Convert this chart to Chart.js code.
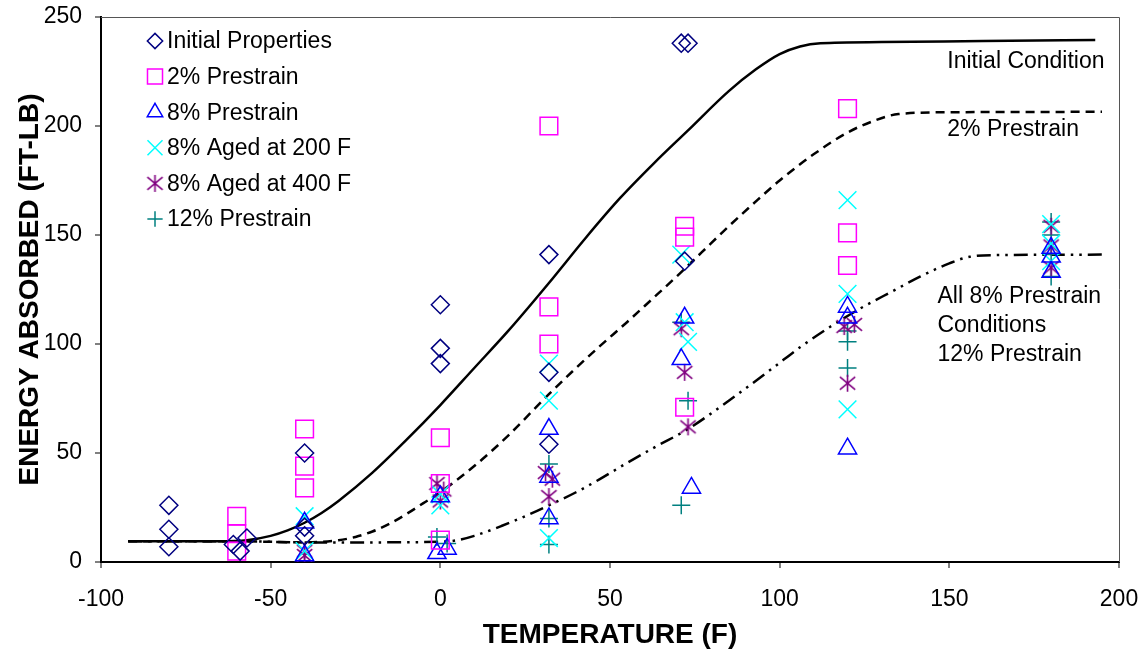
<!DOCTYPE html>
<html>
<head>
<meta charset="utf-8">
<script src="https://cdn.jsdelivr.net/npm/chart.js@4.4.0/dist/chart.umd.min.js"></script>
<style>
  html, body { margin: 0; padding: 0; background: #fff; }
</style>
</head>
<body>
<canvas id="chart" width="1148" height="656"></canvas>
<script>
(function() {
    'use strict';

    // ===== DATA =====
    const xTicks = [-100, -50, 0, 50, 100, 150, 200];
    const yTicks = [0, 50, 100, 150, 200, 250];

    // Initial Properties (diamonds)
    const initX = [-80, -80, -80, -61, -57, -59, -40, -40, -40, 0, 0, 0, 32, 32, 32, 71, 73, 72];
    const initY = [26, 15, 7, 8, 11, 5, 50, 16, 12, 118, 98, 91, 141, 87, 54, 238, 238, 138];

    // 2% Prestrain (squares)
    const pre2X = [-60, -60, -60, -40, -40, -40, 0, 0, 0, 32, 32, 32, 72, 72, 72, 120, 120, 120];
    const pre2Y = [21, 13, 5, 61, 44, 34, 57, 36, 10, 200, 117, 100, 154, 149, 71, 208, 151, 136];

    // 8% Prestrain (triangles)
    const pre8X = [-40, -40, 0, -1, 2, 32, 32, 32, 72, 71, 74, 120, 120, 120, 180, 180, 180];
    const pre8Y = [18, 3, 30, 4, 6, 61, 39, 20, 112, 93, 34, 117, 112, 52, 144, 140, 133];

    // 8% Aged at 200 F (x)
    const aged200X = [-40, -40, 0, 0, 32, 32, 32, 71, 72, 73, 120, 120, 120, 180, 180, 180];
    const aged200Y = [21, 5, 31, 26, 91, 74, 11, 141, 110, 101, 166, 123, 70, 155, 146, 138];

    // 8% Aged at 400 F (asterisk)
    const aged400X = [-40, -40, -1, 1, 0, 31, 33, 32, 71, 72, 73, 119, 122, 120, 180, 180, 180];
    const aged400Y = [5, 3, 36, 33, 28, 41, 38, 30, 107, 87, 62, 108, 109, 82, 154, 145, 135];

    // 12% Prestrain (plus)
    const pre12X = [-1, 2, 32, 32, 32, 71, 73, 71, 120, 120, 120, 180, 180, 180, 180];
    const pre12Y = [11.5, 8.5, 45, 20, 8, 110, 74, 26, 106, 101, 89, 156, 150, 141, 131];

    // Trend curves
    const initCurveX = [-92, -65, -57, -50, -45, -40, -35, -30, -20, -10, 0, 10, 20, 32, 43, 53, 63, 73, 85, 93, 100, 106, 112, 130, 160, 193];
    const initCurveY = [9.5, 9.5, 10, 12, 14.5, 18, 22.5, 28, 41, 56, 72, 89, 106, 128, 149, 167, 183, 198, 216, 226, 233, 236.5, 238, 238.5, 239, 239.5];

    const pre2CurveX = [-92, -60, -40, -30, -25, -20, -15, -10, -5, 0, 10, 20, 32, 40, 47, 55, 62, 70, 77, 85, 92, 100, 110, 120, 128, 135, 150, 195];
    const pre2CurveY = [9.5, 9.5, 9, 10, 11.5, 14, 17.5, 22, 27, 32, 44, 58, 77, 89, 99, 110, 120, 131.5, 142, 154, 164, 175, 187, 197, 202.5, 205.5, 206.3, 206.5];

    const pre8CurveX = [-92, -60, -40, -20, 0, 5, 10, 18, 25, 32, 40, 47, 54, 63, 73, 85, 98, 106, 115, 124, 133, 141.5, 150, 156, 165, 195];
    const pre8CurveY = [9.5, 9.5, 9, 9, 9.3, 10, 12, 16.5, 21, 26, 32, 38, 44.5, 52.5, 61, 74, 89, 98.5, 108, 116.5, 124, 131, 137, 140, 140.8, 141];

    const seriesNames = ['Initial Properties', '2% Prestrain', '8% Prestrain', '8% Aged at 200 F', '8% Aged at 400 F', '12% Prestrain'];
    const curveNotes = [
        { lines: ['Initial Condition'], x: 149.4, y: 229.4 },
        { lines: ['2% Prestrain'], x: 149.4, y: 198.2 },
        { lines: ['All 8% Prestrain', 'Conditions', '12% Prestrain'], x: 146.5, y: 121.6 }
    ];

    const FONT = '"Liberation Sans", Arial, sans-serif';

    function pts(xs, ys) {
        return xs.map((x, i) => ({ x: x, y: ys[i] }));
    }

    // asterisk marker (x with a vertical bar)
    function makeAsterisk(color, size) {
        const c = document.createElement('canvas');
        c.width = size; c.height = size;
        const g = c.getContext('2d');
        const m = size / 2, r = size / 2 - 1;
        g.strokeStyle = color;
        g.lineWidth = 1.6;
        g.beginPath();
        g.moveTo(m, m - r); g.lineTo(m, m + r);
        g.moveTo(m - r * 0.9, m - r * 0.75); g.lineTo(m + r * 0.9, m + r * 0.75);
        g.moveTo(m + r * 0.9, m - r * 0.75); g.lineTo(m - r * 0.9, m + r * 0.75);
        g.stroke();
        return c;
    }

    function markerSet(label, xs, ys, color, style, radius) {
        return {
            label: label,
            data: pts(xs, ys),
            showLine: false,
            pointStyle: style,
            pointRadius: radius,
            pointHoverRadius: radius,
            borderColor: color,
            backgroundColor: 'rgba(0,0,0,0)',
            borderWidth: 1.5
        };
    }

    function curveSet(label, xs, ys, dash) {
        return {
            label: label,
            data: pts(xs, ys),
            showLine: true,
            pointRadius: 0,
            borderColor: '#000',
            backgroundColor: '#000',
            borderWidth: 2.5,
            borderDash: dash,
            cubicInterpolationMode: 'monotone',
            fill: false
        };
    }

    const asterisk = makeAsterisk('#800080', 19);

    const datasets = [
        markerSet(seriesNames[0], initX, initY, '#000080', 'rectRot', 9),
        markerSet(seriesNames[1], pre2X, pre2Y, '#FF00FF', 'rect', 12.5),
        markerSet(seriesNames[2], pre8X, pre8Y, '#0000FF', 'triangle', 10.5),
        markerSet(seriesNames[3], aged200X, aged200Y, '#00FFFF', 'crossRot', 12.5),
        markerSet(seriesNames[4], aged400X, aged400Y, '#800080', asterisk, 9.5),
        markerSet(seriesNames[5], pre12X, pre12Y, '#008080', 'cross', 9),
        curveSet('Initial Condition', initCurveX, initCurveY, []),
        curveSet('2% Prestrain curve', pre2CurveX, pre2CurveY, [9, 6]),
        curveSet('8% / 12% curve', pre8CurveX, pre8CurveY, [14, 6, 2.5, 6, 2.5, 6])
    ];

    // ===== PLUGINS =====
    const framePlugin = {
        id: 'frame',
        afterDraw(chart) {
            const ctx = chart.ctx, a = chart.chartArea;
            ctx.save();
            ctx.strokeStyle = '#555';
            ctx.lineWidth = 1;
            ctx.beginPath();
            ctx.moveTo(a.left, a.top + 0.5);
            ctx.lineTo(a.right + 0.5, a.top + 0.5);
            ctx.lineTo(a.right + 0.5, a.bottom);
            ctx.stroke();
            ctx.restore();
        }
    };

    const legendPlugin = {
        id: 'insideLegend',
        afterDraw(chart) {
            const ctx = chart.ctx, a = chart.chartArea;
            const mx = a.left + 54, ty = a.top + 24, step = 35.6;
            ctx.save();
            ctx.font = '23px ' + FONT;
            ctx.textBaseline = 'middle';
            for (let i = 0; i < 6; i++) {
                const ds = chart.data.datasets[i];
                const y = ty + i * step;
                ctx.save();
                ctx.strokeStyle = ds.borderColor;
                ctx.fillStyle = 'rgba(0,0,0,0)';
                ctx.lineWidth = ds.borderWidth;
                Chart.helpers.drawPoint(ctx, {
                    pointStyle: ds.pointStyle,
                    radius: ds.pointRadius * 0.85,
                    rotation: 0,
                    borderWidth: ds.borderWidth
                }, mx, y);
                ctx.restore();
                ctx.fillStyle = '#000';
                ctx.fillText(ds.label, mx + 12, y + 1);
            }
            ctx.restore();
        }
    };

    const notesPlugin = {
        id: 'curveNotes',
        afterDraw(chart) {
            const ctx = chart.ctx;
            const xs = chart.scales.x, ys = chart.scales.y;
            ctx.save();
            ctx.font = '23px ' + FONT;
            ctx.fillStyle = '#000';
            ctx.textBaseline = 'middle';
            curveNotes.forEach(n => {
                const px = xs.getPixelForValue(n.x), py = ys.getPixelForValue(n.y);
                n.lines.forEach((t, k) => ctx.fillText(t, px, py + k * 29));
            });
            ctx.restore();
        }
    };

    function noOverflow(s) {
        s.paddingTop = 0; s.paddingBottom = 0;
        s.paddingLeft = 0; s.paddingRight = 0;
    }

    // ===== CHART =====
    new Chart(document.getElementById('chart'), {
        type: 'scatter',
        data: { datasets: datasets },
        plugins: [framePlugin, legendPlugin, notesPlugin],
        options: {
            responsive: false,
            animation: false,
            layout: { padding: { top: 17, right: 29, left: 0, bottom: 0 } },
            plugins: {
                legend: { display: false },
                tooltip: { enabled: false }
            },
            scales: {
                x: {
                    type: 'linear',
                    min: xTicks[0],
                    max: xTicks[xTicks.length - 1],
                    afterBuildTicks: s => { s.ticks = xTicks.map(v => ({ value: v })); },
                    afterFit: s => { s.height = 94; noOverflow(s); },
                    ticks: { color: '#000', font: { family: FONT, size: 23 }, padding: 18, maxRotation: 0 },
                    grid: { drawOnChartArea: false, drawTicks: true, tickLength: 6, color: '#808080', lineWidth: 2 },
                    border: { display: true, color: '#000', width: 2 },
                    title: {
                        display: true,
                        text: 'TEMPERATURE (F)',
                        color: '#000',
                        font: { family: FONT, size: 28, weight: 'bold' },
                        padding: { top: 0, bottom: 4 }
                    }
                },
                y: {
                    type: 'linear',
                    min: yTicks[0],
                    max: yTicks[yTicks.length - 1],
                    afterBuildTicks: s => { s.ticks = yTicks.map(v => ({ value: v })); },
                    afterFit: s => { s.width = 101; noOverflow(s); },
                    ticks: { color: '#000', font: { family: FONT, size: 23 }, padding: 13 },
                    grid: { drawOnChartArea: false, drawTicks: true, tickLength: 6, color: '#808080', lineWidth: 2 },
                    border: { display: true, color: '#000', width: 2 },
                    title: {
                        display: true,
                        text: 'ENERGY ABSORBED (FT-LB)',
                        color: '#000',
                        font: { family: FONT, size: 28, weight: 'bold' },
                        padding: { top: 13, bottom: 0 }
                    }
                }
            }
        }
    });
})();
</script>
</body>
</html>
